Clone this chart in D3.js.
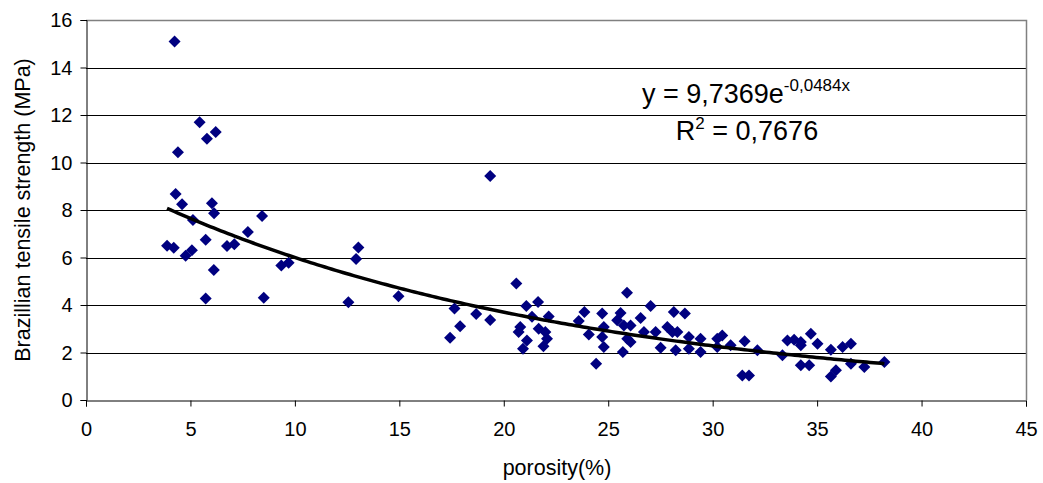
<!DOCTYPE html>
<html>
<head>
<meta charset="utf-8">
<script src="https://cdn.jsdelivr.net/npm/d3@7"></script>
<style>
  html, body { margin: 0; padding: 0; background: #fff; }
  svg { display: block; font-family: "Liberation Sans", Arial, sans-serif; }
</style>
</head>
<body>
<svg id="chart" width="1043" height="483"></svg>
<script>
// Porosity (%) of each specimen
const porosity = [
  4.24, 5.44, 5.79, 6.21, 4.40, 4.29, 4.60, 6.03, 6.13, 5.12,
  8.43, 7.75, 3.88, 4.20, 5.73, 4.77, 5.07, 6.75, 7.10, 6.12,
  5.73, 8.51, 9.35, 9.70, 13.04, 12.93, 12.56, 14.96, 17.64, 17.91,
  17.43, 18.68, 19.35, 19.35, 20.60, 21.08, 21.64, 21.35, 22.15, 20.79,
  20.71, 21.11, 20.92, 21.67, 21.99, 22.07, 21.90, 23.86, 23.59, 24.07,
  24.42, 25.90, 27.03, 24.71, 25.59, 26.55, 25.43, 25.75, 26.07, 24.79,
  28.14, 28.67, 26.71, 27.27, 27.83, 28.07, 28.31, 24.71, 25.91, 26.07,
  24.79, 25.70, 27.51, 28.23, 28.86, 29.42, 28.86, 29.42, 30.22, 30.46,
  30.22, 30.86, 31.53, 32.14, 31.42, 31.74, 33.58, 33.90, 34.22, 34.70,
  35.02, 33.34, 34.22, 35.66, 36.22, 36.62, 34.22, 34.62, 35.90, 35.66,
  36.62, 37.26, 38.22
];
// Brazilian tensile strength (MPa) of each specimen
const strength = [
  15.09, 11.69, 11.00, 11.28, 10.43, 8.67, 8.24, 8.28, 7.86, 7.58,
  7.75, 7.07, 6.49, 6.41, 6.75, 6.07, 6.31, 6.48, 6.56, 5.47,
  4.27, 4.30, 5.66, 5.78, 6.42, 5.94, 4.12, 4.37, 3.85, 3.10,
  2.62, 3.62, 3.37, 9.43, 4.90, 3.96, 4.13, 3.50, 3.52, 3.07,
  2.86, 2.51, 2.16, 3.00, 2.86, 2.58, 2.26, 3.71, 3.33, 2.76,
  1.53, 4.52, 3.96, 3.64, 3.66, 3.45, 3.36, 3.14, 3.14, 3.07,
  3.71, 3.64, 2.86, 2.86, 3.07, 2.86, 2.86, 2.65, 2.58, 2.44,
  2.23, 2.02, 2.20, 2.09, 2.65, 2.58, 2.16, 2.02, 2.58, 2.72,
  2.23, 2.30, 2.47, 2.09, 1.03, 1.03, 2.51, 2.54, 2.44, 2.79,
  2.37, 1.88, 2.30, 2.12, 2.23, 2.37, 1.46, 1.46, 1.25, 0.99,
  1.53, 1.39, 1.60
];

// Axis ticks
const xTicks = [0, 5, 10, 15, 20, 25, 30, 35, 40, 45];
const yTicks = [0, 2, 4, 6, 8, 10, 12, 14, 16];

// Exponential fit y = a * e^(b x)
const fitA = 9.7369;
const fitB = -0.0484;
const fitLabel = "y = 9,7369e";
const fitExpLabel = "-0,0484x";
const r2Label = " = 0,7676";

const svg = d3.select("#chart");
const plot = { left: 86, right: 1026, top: 20, bottom: 400 };

const x = d3.scaleLinear().domain([0, 45]).range([plot.left, plot.right]);
const y = d3.scaleLinear().domain([0, 16]).range([plot.bottom, plot.top]);

// Horizontal gridlines
svg.append("g")
  .selectAll("line")
  .data(yTicks.filter(t => t > 0 && t < 16))
  .join("line")
  .attr("x1", plot.left).attr("x2", plot.right)
  .attr("y1", d => Math.round(y(d)) + 0.5)
  .attr("y2", d => Math.round(y(d)) + 0.5)
  .attr("stroke", "#000").attr("stroke-width", 1);

// Plot frame (top and right)
svg.append("path")
  .attr("d", `M${plot.left},${plot.top + 0.5}H${plot.right + 0.5}V${plot.bottom}`)
  .attr("fill", "none").attr("stroke", "#808080").attr("stroke-width", 1.5);

// Y axis
const yAxis = d3.axisLeft(y).tickValues(yTicks).tickSize(6).tickPadding(8)
  .tickFormat(d3.format("d"));
const gy = svg.append("g")
  .attr("transform", `translate(${plot.left + 0.5},0)`)
  .call(yAxis);
gy.select(".domain").attr("stroke", "#000");
gy.selectAll(".tick line").attr("stroke", "#000");
gy.selectAll(".tick text").attr("font-size", 20).attr("font-family", "Liberation Sans, Arial, sans-serif")
  .attr("fill", "#000").attr("dy", "0.34em");

// X axis
const xAxis = d3.axisBottom(x).tickValues(xTicks).tickSize(6).tickPadding(15)
  .tickFormat(d3.format("d"));
const gx = svg.append("g")
  .attr("transform", `translate(0,${plot.bottom + 0.5})`)
  .call(xAxis);
gx.select(".domain").attr("stroke", "#000");
gx.selectAll(".tick line").attr("stroke", "#000");
gx.selectAll(".tick text").attr("font-size", 20).attr("font-family", "Liberation Sans, Arial, sans-serif")
  .attr("fill", "#000");

// Axis titles
svg.append("text")
  .attr("x", (plot.left + plot.right) / 2 + 1)
  .attr("y", 475)
  .attr("text-anchor", "middle")
  .attr("font-size", 21.5)
  .text("porosity(%)");

svg.append("text")
  .attr("transform", `translate(30,${(plot.top + plot.bottom) / 2}) rotate(-90)`)
  .attr("text-anchor", "middle")
  .attr("font-size", 21.5)
  .text("Brazillian tensile strength (MPa)");

// Trendline samples
const xMin = d3.min(porosity), xMax = d3.max(porosity);
const fitPts = d3.range(0, 201).map(i => {
  const px = xMin + (xMax - xMin) * i / 200;
  return [px, fitA * Math.exp(fitB * px)];
});

// Data points (diamonds)
svg.append("g")
  .selectAll("path")
  .data(porosity.map((p, i) => [p, strength[i]]))
  .join("path")
  .attr("d", d3.symbol(d3.symbolSquare, 72)())
  .attr("transform", d => `translate(${x(d[0])},${y(d[1])}) rotate(45)`)
  .attr("fill", "#000080");

svg.append("path")
  .datum(fitPts)
  .attr("d", d3.line().x(d => x(d[0])).y(d => y(d[1])))
  .attr("fill", "none")
  .attr("stroke", "#000")
  .attr("stroke-width", 3.5);

// Fit equation
const eq = svg.append("text")
  .attr("x", 746).attr("y", 103)
  .attr("text-anchor", "middle")
  .attr("font-size", 27);
eq.append("tspan").text(fitLabel);
eq.append("tspan").attr("font-size", 17).attr("dy", -12).text(fitExpLabel);

const r2 = svg.append("text")
  .attr("x", 747).attr("y", 140)
  .attr("text-anchor", "middle")
  .attr("font-size", 27);
r2.append("tspan").text("R");
r2.append("tspan").attr("font-size", 17).attr("dy", -11).text("2");
r2.append("tspan").attr("dy", 11).text(r2Label);
</script>
</body>
</html>
